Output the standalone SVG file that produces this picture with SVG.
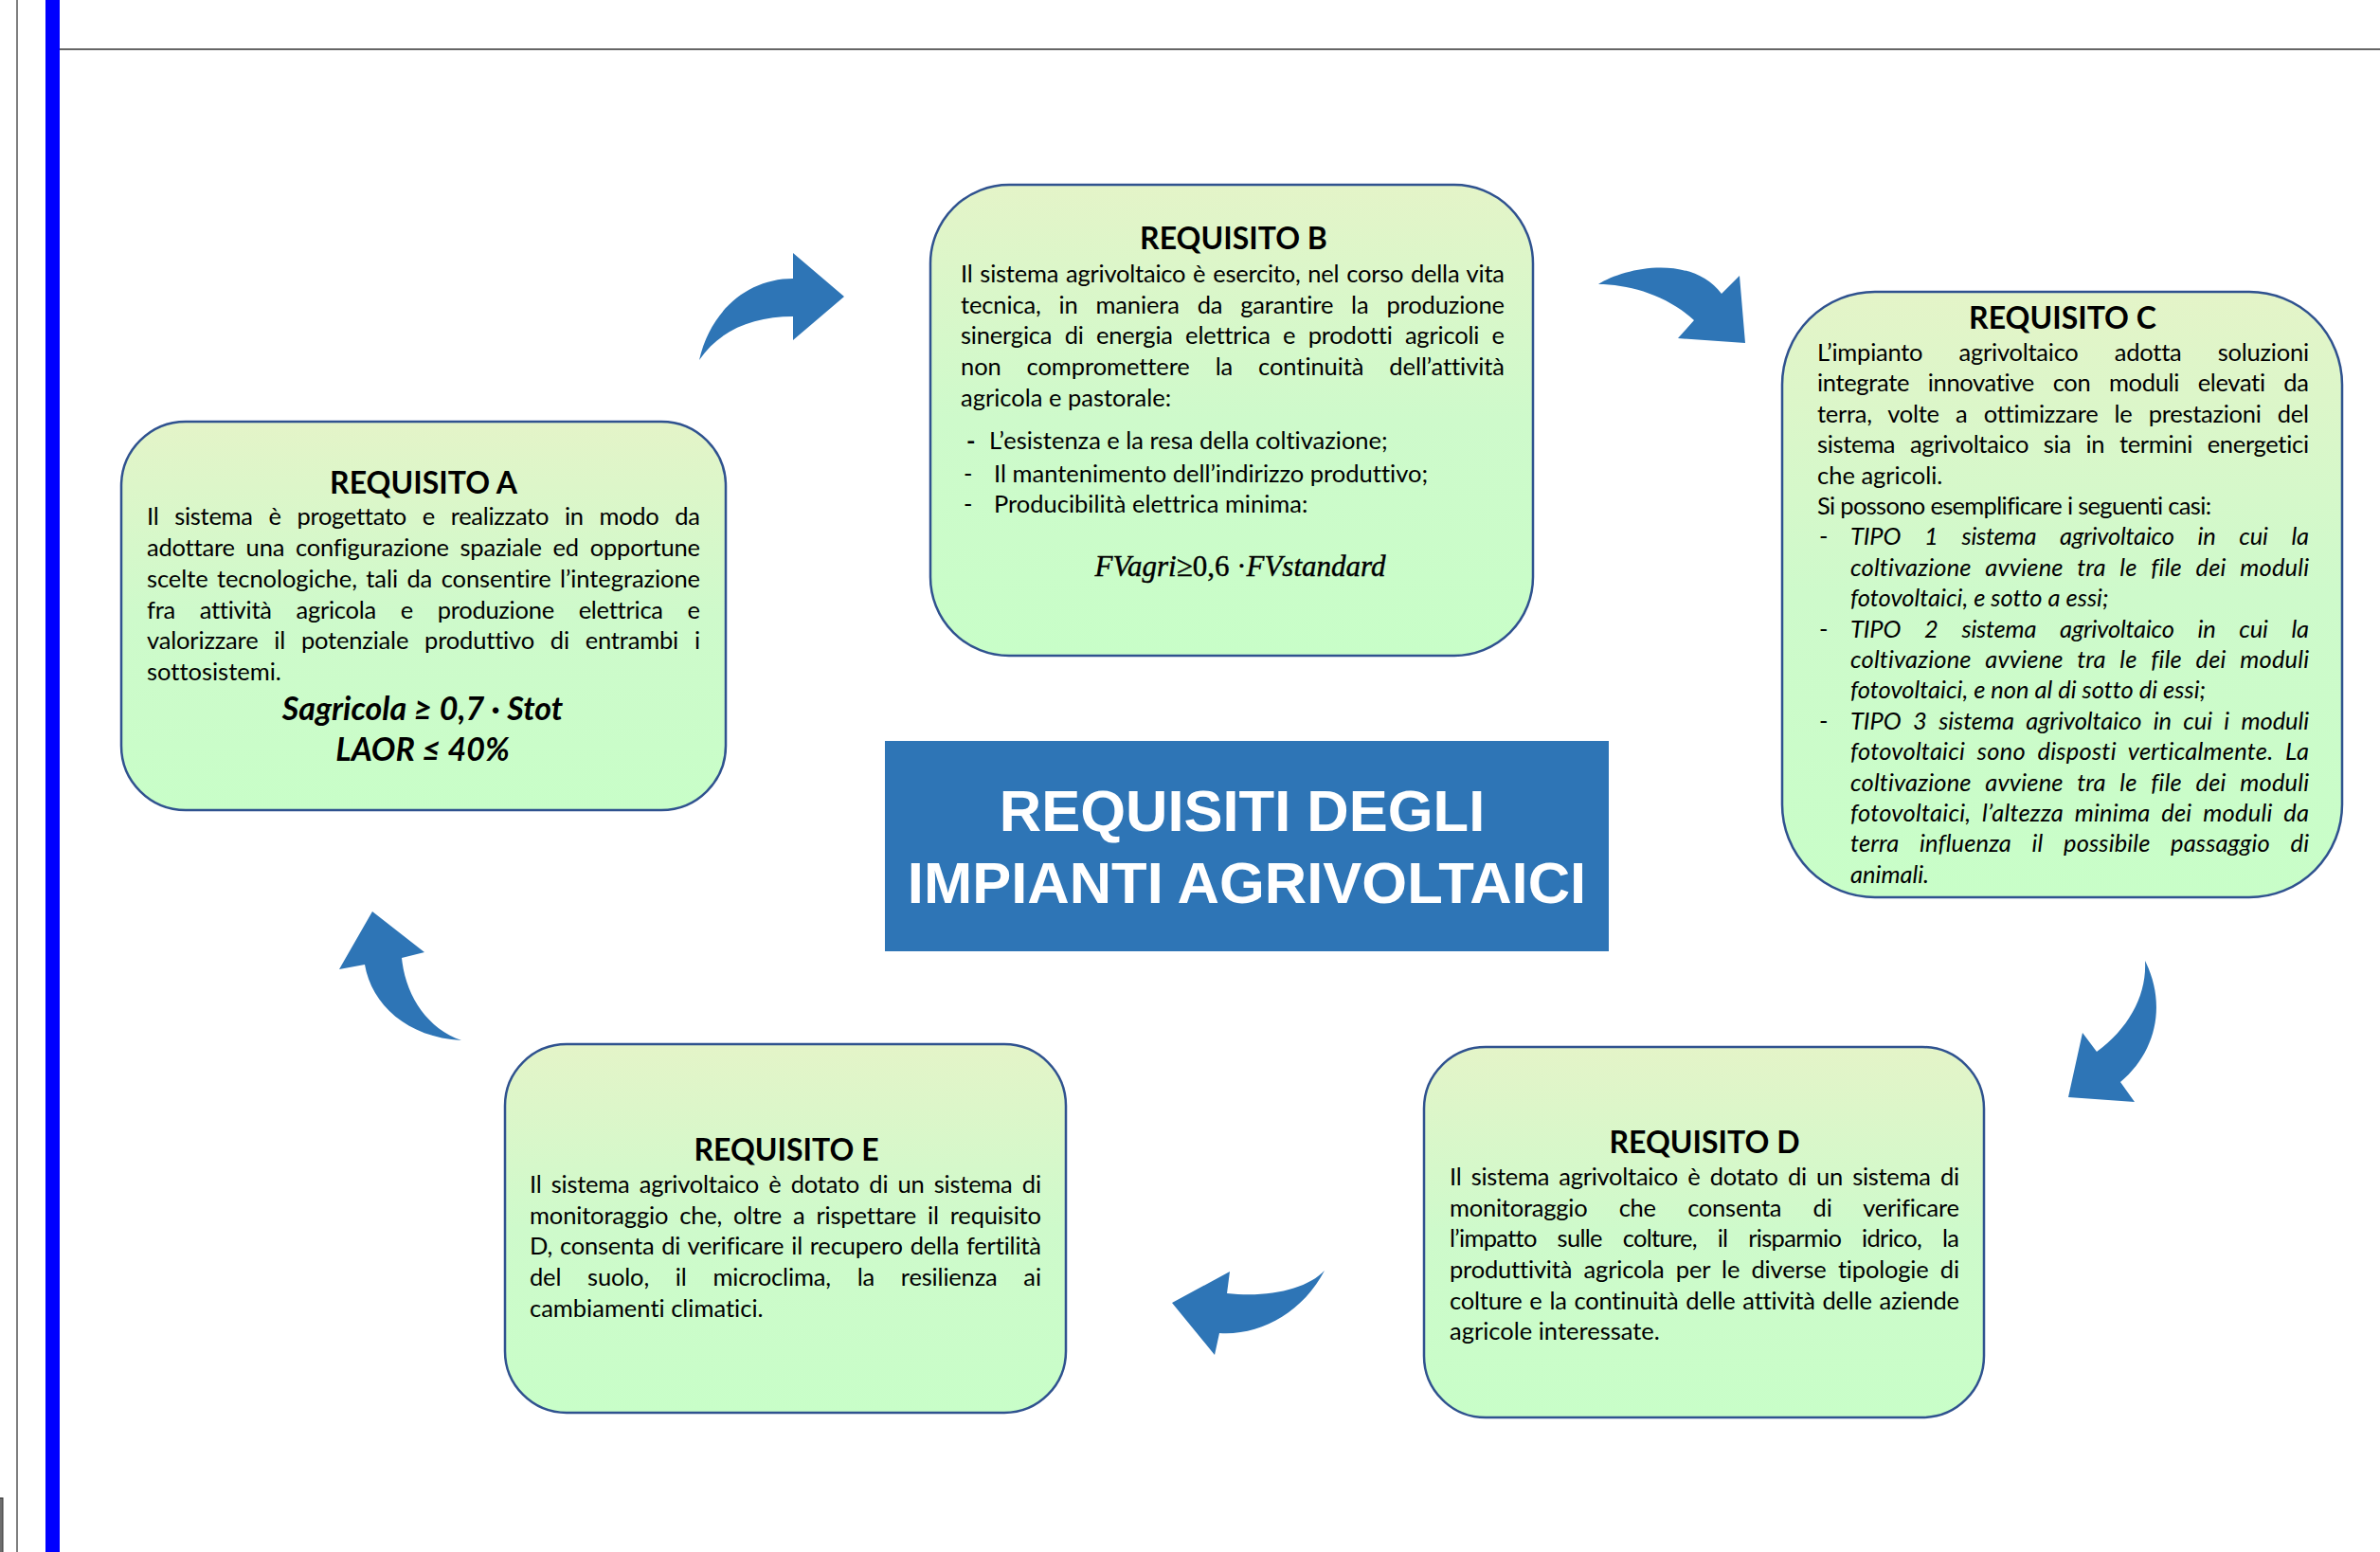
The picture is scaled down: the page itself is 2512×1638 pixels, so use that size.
<svg xmlns="http://www.w3.org/2000/svg" width="2512" height="1638" viewBox="0 0 2512 1638">
  <defs>
    <linearGradient id="boxFill" x1="0" y1="0" x2="0" y2="1">
      <stop offset="0" stop-color="#E4F4C8"/>
      <stop offset="0.5" stop-color="#CEFACB"/>
      <stop offset="1" stop-color="#C8FEC8"/>
    </linearGradient>
    <style>
      .box { fill: url(#boxFill); stroke: #2F528F; stroke-width: 2.5; }
      .title { font-family: Lato, "Liberation Sans", sans-serif; font-weight: bold; font-size: 32px; text-anchor: middle; fill: #000; }
      .body { font-family: Lato, "Liberation Sans", sans-serif; font-size: 25.5px; fill: #000; font-variant-ligatures: no-common-ligatures; }
      .it { font-style: italic; }
      .formula { font-family: Lato, "Liberation Sans", sans-serif; font-weight: bold; font-style: italic; font-size: 34px; text-anchor: middle; fill: #000; }
      .math { font-family: "Liberation Serif", "DejaVu Serif", serif; font-size: 31px; text-anchor: middle; fill: #000; stroke: #000; stroke-width: 0.4; }
      .arrow { fill: #2E75B6; }
      .hub { fill: #2E75B6; }
      .hubtext { font-family: "Liberation Sans", Arial, sans-serif; font-weight: bold; font-size: 61.5px; text-anchor: middle; fill: #FFFFFF; }
    </style>
  </defs>

  <rect x="0" y="0" width="2512" height="1638" fill="#FFFFFF"/>

  <!-- page frame -->
  <g id="page-frame">
    <line x1="18" y1="0" x2="18" y2="1638" stroke="#7F7F7F" stroke-width="2"/>
    <rect x="48" y="0" width="15" height="1638" fill="#0000FF"/>
    <line x1="63" y1="52" x2="2512" y2="52" stroke="#666666" stroke-width="2"/>
    <rect x="-10" y="1581" width="13" height="70" fill="#6E6E6E" stroke="#333333" stroke-width="1"/>
  </g>

  <!-- central title -->
  <g id="hub">
    <rect class="hub" x="934" y="782" width="764" height="222"/>
    <text class="hubtext" x="1311" y="877">REQUISITI DEGLI</text>
    <text class="hubtext" x="1316" y="953">IMPIANTI AGRIVOLTAICI</text>
  </g>

  <!-- Requisito A -->
  <g id="node-a">
    <rect class="box" x="128" y="445" width="638" height="410" rx="68" ry="68"/>
    <text class="title" x="447" y="521">REQUISITO A</text>
    <text class="body" x="155" y="554" textLength="584" style="word-spacing:10.5px">Il sistema è progettato e realizzato in modo da</text>
    <text class="body" x="155" y="587" textLength="584" style="word-spacing:5.5px">adottare una configurazione spaziale ed opportune</text>
    <text class="body" x="155" y="620" textLength="584" style="word-spacing:3px">scelte tecnologiche, tali da consentire l’integrazione</text>
    <text class="body" x="155" y="653" textLength="584" style="word-spacing:19.5px">fra attività agricola e produzione elettrica e</text>
    <text class="body" x="155" y="685" textLength="584" style="word-spacing:10.5px">valorizzare il potenziale produttivo di entrambi i</text>
    <text class="body" x="155" y="718">sottosistemi.</text>
    <text class="formula" x="446" y="760">Sagricola ≥ 0,7 · Stot</text>
    <text class="formula" x="446" y="803">LAOR ≤ 40%</text>
  </g>

  <!-- Requisito B -->
  <g id="node-b">
    <rect class="box" x="982" y="195" width="636" height="497" rx="83" ry="83"/>
    <text class="title" x="1302" y="263">REQUISITO B</text>
    <text class="body" x="1014" y="298" textLength="574" style="word-spacing:1.5px">Il sistema agrivoltaico è esercito, nel corso della vita</text>
    <text class="body" x="1014" y="331" textLength="574" style="word-spacing:12.5px">tecnica, in maniera da garantire la produzione</text>
    <text class="body" x="1014" y="363" textLength="574" style="word-spacing:7px">sinergica di energia elettrica e prodotti agricoli e</text>
    <text class="body" x="1014" y="396" textLength="574" style="word-spacing:20.5px">non compromettere la continuità dell’attività</text>
    <text class="body" x="1014" y="429">agricola e pastorale:</text>
    <text class="body" x="1020" y="474" font-weight="bold">-</text>
    <text class="body" x="1044" y="474">L’esistenza e la resa della coltivazione;</text>
    <text class="body" x="1017" y="509">-</text>
    <text class="body" x="1049" y="509">Il mantenimento dell’indirizzo produttivo;</text>
    <text class="body" x="1017" y="541">-</text>
    <text class="body" x="1049" y="541">Producibilità elettrica minima:</text>
    <text class="math" x="1309" y="608"><tspan font-style="italic">FVagri</tspan>≥0,6 ·<tspan font-style="italic">FVstandard</tspan></text>
  </g>

  <!-- Requisito C -->
  <g id="node-c">
    <rect class="box" x="1881" y="308" width="591" height="639" rx="98" ry="98"/>
    <text class="title" x="2177" y="347">REQUISITO C</text>
    <text class="body" x="1918" y="381" textLength="519" style="word-spacing:32px">L’impianto agrivoltaico adotta soluzioni</text>
    <text class="body" x="1918" y="413.4" textLength="519" style="word-spacing:13.5px">integrate innovative con moduli elevati da</text>
    <text class="body" x="1918" y="445.8" textLength="519" style="word-spacing:11px">terra, volte a ottimizzare le prestazioni del</text>
    <text class="body" x="1918" y="478.2" textLength="519" style="word-spacing:9.5px">sistema agrivoltaico sia in termini energetici</text>
    <text class="body" x="1918" y="510.6">che agricoli.</text>
    <text class="body" x="1918" y="543" textLength="416">Si possono esemplificare i seguenti casi:</text>
    <text class="body" x="1920" y="575.4">-</text>
    <text class="body it" x="1953" y="575.4" textLength="484" style="word-spacing:19px">TIPO 1 sistema agrivoltaico in cui la</text>
    <text class="body it" x="1953" y="607.8" textLength="484" style="word-spacing:8.5px">coltivazione avviene tra le file dei moduli</text>
    <text class="body it" x="1953" y="640.2">fotovoltaici, e sotto a essi;</text>
    <text class="body" x="1920" y="672.6">-</text>
    <text class="body it" x="1953" y="672.6" textLength="484" style="word-spacing:19px">TIPO 2 sistema agrivoltaico in cui la</text>
    <text class="body it" x="1953" y="705" textLength="484" style="word-spacing:8.5px">coltivazione avviene tra le file dei moduli</text>
    <text class="body it" x="1953" y="737.4">fotovoltaici, e non al di sotto di essi;</text>
    <text class="body" x="1920" y="769.8">-</text>
    <text class="body it" x="1953" y="769.8" textLength="484" style="word-spacing:6.5px">TIPO 3 sistema agrivoltaico in cui i moduli</text>
    <text class="body it" x="1953" y="802.2" textLength="484" style="word-spacing:6.5px">fotovoltaici sono disposti verticalmente. La</text>
    <text class="body it" x="1953" y="834.6" textLength="484" style="word-spacing:8.5px">coltivazione avviene tra le file dei moduli</text>
    <text class="body it" x="1953" y="867" textLength="484" style="word-spacing:5.5px">fotovoltaici, l’altezza minima dei moduli da</text>
    <text class="body it" x="1953" y="899.4" textLength="484" style="word-spacing:15.5px">terra influenza il possibile passaggio di</text>
    <text class="body it" x="1953" y="931.8">animali.</text>
  </g>

  <!-- Requisito D -->
  <g id="node-d">
    <rect class="box" x="1503" y="1105" width="591" height="391" rx="65" ry="65"/>
    <text class="title" x="1799" y="1217">REQUISITO D</text>
    <text class="body" x="1530" y="1251" textLength="538" style="word-spacing:4px">Il sistema agrivoltaico è dotato di un sistema di</text>
    <text class="body" x="1530" y="1284" textLength="538" style="word-spacing:27px">monitoraggio che consenta di verificare</text>
    <text class="body" x="1530" y="1316" textLength="538" style="word-spacing:16px">l’impatto sulle colture, il risparmio idrico, la</text>
    <text class="body" x="1530" y="1349" textLength="538" style="word-spacing:6px">produttività agricola per le diverse tipologie di</text>
    <text class="body" x="1530" y="1382" textLength="538" style="word-spacing:1.5px">colture e la continuità delle attività delle aziende</text>
    <text class="body" x="1530" y="1414">agricole interessate.</text>
  </g>

  <!-- Requisito E -->
  <g id="node-e">
    <rect class="box" x="533" y="1102" width="592" height="389" rx="65" ry="65"/>
    <text class="title" x="830" y="1225">REQUISITO E</text>
    <text class="body" x="559" y="1259" textLength="540" style="word-spacing:4px">Il sistema agrivoltaico è dotato di un sistema di</text>
    <text class="body" x="559" y="1292" textLength="540" style="word-spacing:5.5px">monitoraggio che, oltre a rispettare il requisito</text>
    <text class="body" x="559" y="1324" textLength="540" style="word-spacing:1.5px">D, consenta di verificare il recupero della fertilità</text>
    <text class="body" x="559" y="1357" textLength="540" style="word-spacing:21.5px">del suolo, il microclima, la resilienza ai</text>
    <text class="body" x="559" y="1390">cambiamenti climatici.</text>
  </g>

  <!-- curved block arrows between the requirements -->
  <g id="connectors">
    <path class="arrow" d="M738,380 C750,327 790,294 837,294 L837,267 L891,313 L837,359 L837,334 C795,334 760,348 738,380 Z"/>
    <path class="arrow" d="M1687,300 C1715,282 1785,268 1817,310 L1836,291 L1842,362 L1771,357 L1788,338 C1760,312 1720,300 1687,300 Z"/>
    <path class="arrow" d="M2264,1014 C2287,1060 2276,1110 2238,1142 L2253,1163 L2183,1158 L2198,1090 L2213,1110 C2247,1085 2266,1050 2264,1014 Z"/>
    <path class="arrow" d="M1398,1341 C1375,1385 1330,1410 1287,1407 L1282,1430 L1237,1375 L1298,1342 L1295,1365 C1340,1370 1380,1360 1398,1341 Z"/>
    <path class="arrow" d="M393,962 L448,1005 L424,1011 C428,1050 450,1085 487,1098 C430,1095 392,1060 385,1018 L358,1023 Z"/>
  </g>
</svg>
